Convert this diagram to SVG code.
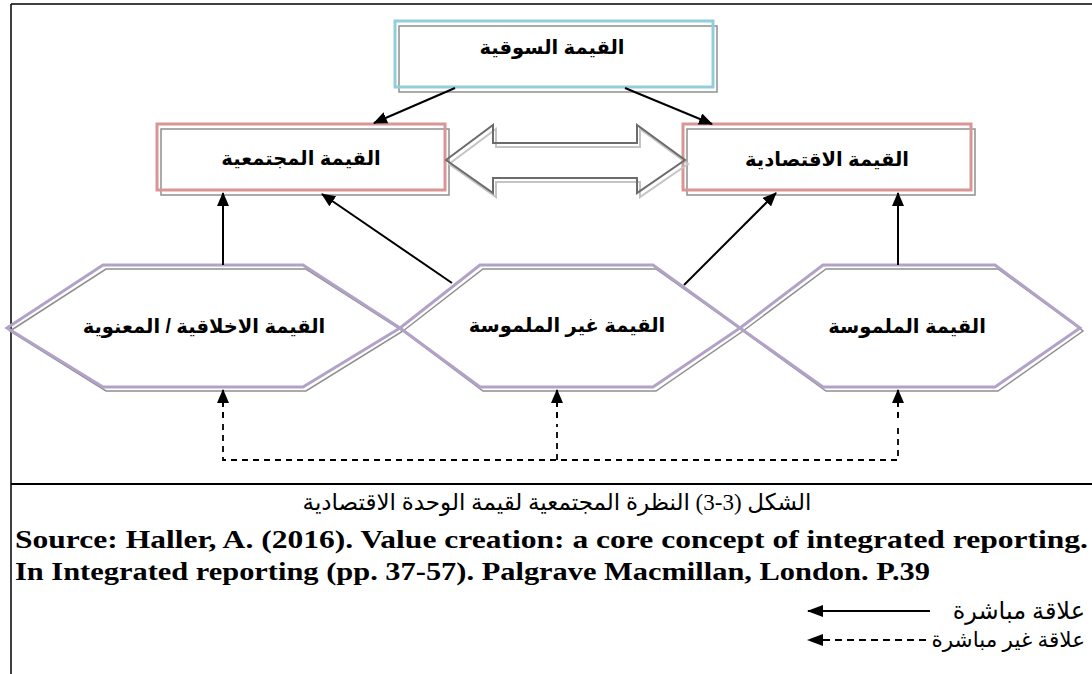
<svg xmlns="http://www.w3.org/2000/svg" width="1092" height="674" viewBox="0 0 1092 674">
<style>
.frame{stroke:#000;stroke-width:1.5;fill:none}
.shadow{fill:none;stroke:#8f8f8f;stroke-width:1.5}
.blue{fill:none;stroke:#92cddc;stroke-width:3}
.pink{fill:none;stroke:#d99694;stroke-width:3}
.lav{fill:none;stroke:#b3a2c7;stroke-width:3}
.lbl{font-family:"Liberation Sans","DejaVu Sans",sans-serif;font-weight:bold;font-size:19.5px;fill:#000;text-anchor:middle;dominant-baseline:central}
.conn{stroke:#000;stroke-width:2;fill:none}
.dash{stroke:#000;stroke-width:1.8;fill:none;stroke-dasharray:6,5}
.cap{font-family:"Liberation Serif","DejaVu Sans",serif;fill:#000}
</style>
<defs>
<marker id="ah" markerWidth="16" markerHeight="12" refX="15" refY="6" orient="auto" markerUnits="userSpaceOnUse" viewBox="0 0 16 12">
<path d="M0,0 L16,6 L0,12 z" fill="#000"/>
</marker>
<marker id="ahl" markerWidth="14" markerHeight="12" refX="13" refY="6" orient="auto" markerUnits="userSpaceOnUse" viewBox="0 0 14 12">
<path d="M0,0 L14,6 L0,12 z" fill="#000"/>
</marker>
</defs>
<rect width="1092" height="674" fill="#fff"/>
<g id="frame">
<line class="frame" x1="11" y1="4" x2="1092" y2="4"/>
<line class="frame" x1="11" y1="4" x2="11" y2="674"/>
<line x1="11" y1="484" x2="1092" y2="484" stroke="#000" stroke-width="2"/>
</g>
<g id="node-market">
<rect class="shadow" x="399" y="26" width="318" height="66"/>
<rect class="blue" x="395" y="21" width="318" height="66"/>
<text class="lbl" x="552" y="47">القيمة السوقية</text>
</g>
<g id="node-social">
<rect class="shadow" x="161" y="129" width="288" height="66"/>
<rect class="pink" x="157" y="124" width="288" height="66"/>
<text class="lbl" x="301" y="158">القيمة المجتمعية</text>
</g>
<g id="node-economic">
<rect class="shadow" x="687" y="129" width="288" height="66"/>
<rect class="pink" x="683" y="124" width="288" height="66"/>
<text class="lbl" x="827" y="159">القيمة الاقتصادية</text>
</g>
<g id="double-arrow">
<polygon points="449,164 496,129 496,147 640,147 640,129 688,164 640,197 640,182 496,182 496,197" fill="none" stroke="#c4c4c4" stroke-width="2"/>
<polygon points="446,160 493,125 493,143 637,143 637,125 685,160 637,193 637,178 493,178 493,193" fill="none" stroke="#6b6b6b" stroke-width="2"/>
</g>
<g id="node-ethical">
<polygon class="shadow" points="10,331 106,269 306,269 403,331 306,391 106,391"/>
<polygon class="lav" points="7,328 103,265 303,265 400,328 303,387 103,387"/>
<text class="lbl" x="204" y="326">القيمة الاخلاقية / المعنوية</text>
</g>
<g id="node-intangible">
<polygon class="shadow" points="403,331 483,269 656,269 743,331 656,391 483,391"/>
<polygon class="lav" points="400,328 480,265 653,265 740,328 653,387 480,387"/>
<text class="lbl" x="567" y="325">القيمة غير الملموسة</text>
</g>
<g id="node-tangible">
<polygon class="shadow" points="743,331 826,269 998,269 1083,331 998,391 826,391"/>
<polygon class="lav" points="740,328 823,265 995,265 1080,328 995,387 823,387"/>
<text class="lbl" x="907" y="326">القيمة الملموسة</text>
</g>
<g id="connectors">
<line class="conn" x1="455" y1="88" x2="374" y2="123" marker-end="url(#ahl)"/>
<line class="conn" x1="625" y1="88" x2="712" y2="124" marker-end="url(#ahl)"/>
<line class="conn" x1="223" y1="265" x2="223" y2="193" marker-end="url(#ahl)"/>
<line class="conn" x1="898" y1="265" x2="898" y2="193" marker-end="url(#ahl)"/>
<line class="conn" x1="452" y1="283" x2="322" y2="194" marker-end="url(#ahl)"/>
<line class="conn" x1="684" y1="285" x2="776" y2="193" marker-end="url(#ahl)"/>
<polyline class="dash" points="223,424 223,460 898,460 898,424"/>
<line class="dash" x1="557" y1="460" x2="557" y2="424"/>
<line class="conn" x1="223" y1="418" x2="223" y2="390" stroke-dasharray="6,5" stroke-width="1.8" marker-end="url(#ahl)"/>
<line class="conn" x1="557" y1="418" x2="557" y2="390" stroke-dasharray="6,5" stroke-width="1.8" marker-end="url(#ahl)"/>
<line class="conn" x1="898" y1="418" x2="898" y2="390" stroke-dasharray="6,5" stroke-width="1.8" marker-end="url(#ahl)"/>
</g>
<g id="caption">
<text class="cap" x="557" y="510" font-size="23" text-anchor="middle">الشكل (3-3) النظرة المجتمعية لقيمة الوحدة الاقتصادية</text>
<text class="cap" x="15" y="548" font-size="26" font-weight="bold" textLength="1073" lengthAdjust="spacingAndGlyphs">Source: Haller, A. (2016). Value creation: a core concept of integrated reporting.</text>
<text class="cap" x="15" y="580" font-size="26" font-weight="bold" textLength="915" lengthAdjust="spacingAndGlyphs">In Integrated reporting (pp. 37-57). Palgrave Macmillan, London. P.39</text>
</g>
<g id="legend">
<text class="cap" x="1085" y="619" font-size="24" text-anchor="end">علاقة مباشرة</text>
<line x1="930" y1="611" x2="808" y2="611" stroke="#000" stroke-width="2" marker-end="url(#ah)"/>
<text class="cap" x="1085" y="647" font-size="21.5" text-anchor="end">علاقة غير مباشرة</text>
<line x1="926" y1="640" x2="808" y2="640" stroke="#000" stroke-width="2" stroke-dasharray="7,5" marker-end="url(#ah)"/>
</g>
</svg>
